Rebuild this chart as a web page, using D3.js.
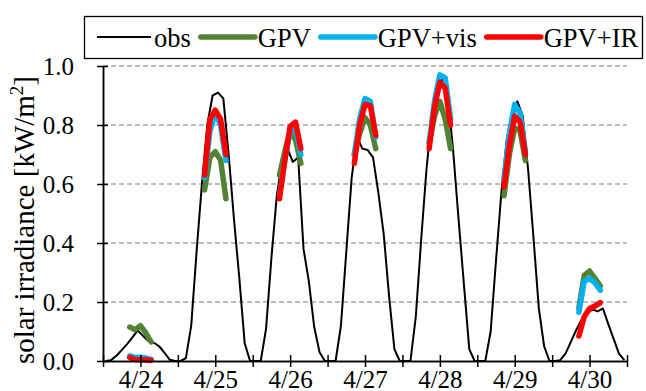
<!DOCTYPE html>
<html><head><meta charset="utf-8">
<script src="https://cdn.jsdelivr.net/npm/d3@7"></script>
<style>body{margin:0;background:#fff}</style>
</head><body>
<svg id="c" width="646" height="391"></svg>
<script>
const days = ["4/24","4/25","4/26","4/27","4/28","4/29","4/30"];
const obsHours = [5,6,7,8,9,10,11,12,13,14,15,16,17,18];
const fcHours = [9.5,10.5,11.5,12.5,13.5];
const obs = [
 [0,0.003,0.018,0.037,0.057,0.08,0.104,0.085,0.068,0.062,0.05,0.028,0.004,0],
 [0,0.01,0.12,0.37,0.60,0.80,0.90,0.91,0.89,0.70,0.48,0.28,0.06,0],
 [0,0,0.11,0.35,0.56,0.68,0.72,0.675,0.69,0.38,0.27,0.115,0.03,0],
 [0,0,0.12,0.37,0.62,0.76,0.72,0.715,0.69,0.57,0.43,0.22,0.04,0],
 [0,0,0.15,0.41,0.65,0.83,0.93,0.96,0.90,0.71,0.48,0.26,0.04,0],
 [0,0,0.10,0.34,0.57,0.75,0.84,0.88,0.83,0.65,0.42,0.18,0.05,0],
 [0,0.003,0.025,0.065,0.105,0.14,0.16,0.175,0.168,0.178,0.125,0.075,0.025,0.003]
];
const gpv = [
 [0.115,0.106,0.12,0.095,0.065],
 [0.58,0.69,0.71,0.68,0.55],
 [0.63,0.71,0.78,0.75,0.67],
 [0.70,0.77,0.825,0.80,0.72],
 [0.74,0.83,0.88,0.82,0.72],
 [0.56,0.70,0.79,0.78,0.68],
 [0.18,0.29,0.305,0.28,0.255]
];
const gpvVis = [
 [0.017,0.012,0.013,0.010,0.005],
 [0.62,0.78,0.84,0.80,0.68],
 [0.56,0.68,0.78,0.79,0.70],
 [0.70,0.82,0.89,0.88,0.76],
 [0.74,0.88,0.97,0.96,0.82],
 [0.62,0.77,0.87,0.84,0.71],
 [0.165,0.27,0.28,0.265,0.24]
];
const gpvIR = [
 [0.012,0.004,0.004,0.004,0.002],
 [0.63,0.82,0.85,0.82,0.70],
 [0.55,0.68,0.795,0.81,0.72],
 [0.67,0.80,0.87,0.865,0.765],
 [0.72,0.86,0.945,0.925,0.80],
 [0.59,0.73,0.83,0.81,0.70],
 [0.085,0.15,0.178,0.186,0.198]
];
const yTicks = [0,0.2,0.4,0.6,0.8,1.0];
const seriesNames = ["obs","GPV","GPV+vis","GPV+IR"];
const seriesColors = ["#000000","#548235","#00b0f0","#ff0000"];

const FONT = "Liberation Serif, Times New Roman, serif";
const W=646,H=391;
const svg=d3.select("#c");
svg.append("rect").attr("width",W).attr("height",H).attr("fill","#fff");
const N = obsHours.length;
const x = d3.scaleLinear().domain([0, days.length*N]).range([103, 627]);
const y = d3.scaleLinear().domain([0,1]).range([361, 66]);
const slot = (d,h) => d*N + (h - obsHours[0] + 0.5);

// grid
svg.append("g").selectAll("line").data(yTicks.filter(t=>t>0)).join("line")
 .attr("x1",x(0)).attr("x2",x(days.length*N)).attr("y1",d=>y(d)).attr("y2",d=>y(d))
 .attr("stroke","#a6a6a6").attr("stroke-width",1.3).attr("stroke-dasharray","5,3");

// series
const line = d3.line().x(d=>x(d.s)).y(d=>y(d.v));
const obsPts = [];
obs.forEach((row,d)=>row.forEach((v,i)=>obsPts.push({s:slot(d,obsHours[i]),v})));
svg.append("path").datum(obsPts).attr("d",line).attr("fill","none")
 .attr("stroke","#000").attr("stroke-width",2).attr("stroke-linejoin","round");

[gpv,gpvVis,gpvIR].forEach((ser,k)=>{
  svg.append("g").selectAll("path").data(ser.map((row,d)=>row.map((v,i)=>({s:slot(d,fcHours[i]),v}))))
   .join("path").attr("d",line).attr("fill","none").attr("stroke",seriesColors[k+1])
   .attr("stroke-width",5.5).attr("stroke-linecap","round").attr("stroke-linejoin","round");
});

// axes
const xTickVals = d3.range(0, days.length*N+1, N/2);
const xa = svg.append("g").attr("transform","translate(0,361)")
 .call(d3.axisBottom(x).tickValues(xTickVals).tickSize(6).tickSizeOuter(0).tickPadding(3)
   .tickFormat(v=> (v % N) ? days[Math.floor(v/N)] : ""));
const xa2 = svg.append("g").attr("transform","translate(0,361)")
 .call(d3.axisBottom(x).tickValues(xTickVals).tickSize(-6).tickSizeOuter(0).tickFormat(""));
const ya = svg.append("g").attr("transform","translate(103,0)")
 .call(d3.axisLeft(y).tickValues(yTicks).tickSize(6).tickSizeOuter(0).tickPadding(23).tickFormat(d3.format(".1f")));
const ya2 = svg.append("g").attr("transform","translate(103,0)")
 .call(d3.axisLeft(y).tickValues(yTicks).tickSize(-5).tickSizeOuter(0).tickFormat(""));
[xa,xa2,ya,ya2].forEach(g=>{
  g.selectAll("path,line").attr("stroke","#000").attr("stroke-width",1.5);
  g.selectAll("text").attr("font-family",FONT).attr("font-size",25).attr("fill","#000");
});

// y title
const yt = svg.append("text").attr("transform","translate(34,220) rotate(-90)")
 .attr("text-anchor","middle").attr("font-family",FONT).attr("font-size",29).attr("fill","#000");
yt.append("tspan").text("solar irradiance [kW/m");
yt.append("tspan").attr("font-size",19).attr("dy",-11).text("2");
yt.append("tspan").attr("dy",11).text("]");

// legend
const lg = svg.append("g");
lg.append("rect").attr("x",84.5).attr("y",16.5).attr("width",558).attr("height",42)
 .attr("fill","#fff").attr("stroke","#000").attr("stroke-width",1.3);
let lx = 97;
seriesNames.forEach((name,k)=>{
  lg.append("line").attr("x1",lx).attr("x2",lx+54).attr("y1",37).attr("y2",37)
   .attr("stroke",seriesColors[k]).attr("stroke-width",k?5.5:2).attr("stroke-linecap",k?"round":"butt");
  const t = lg.append("text").attr("x",lx+57).attr("y",47).attr("font-family",FONT)
   .attr("font-size",26.5).attr("fill","#000").text(name);
  lx = lx + 57 + t.node().getComputedTextLength() + 10;
});
</script>
</body></html>
